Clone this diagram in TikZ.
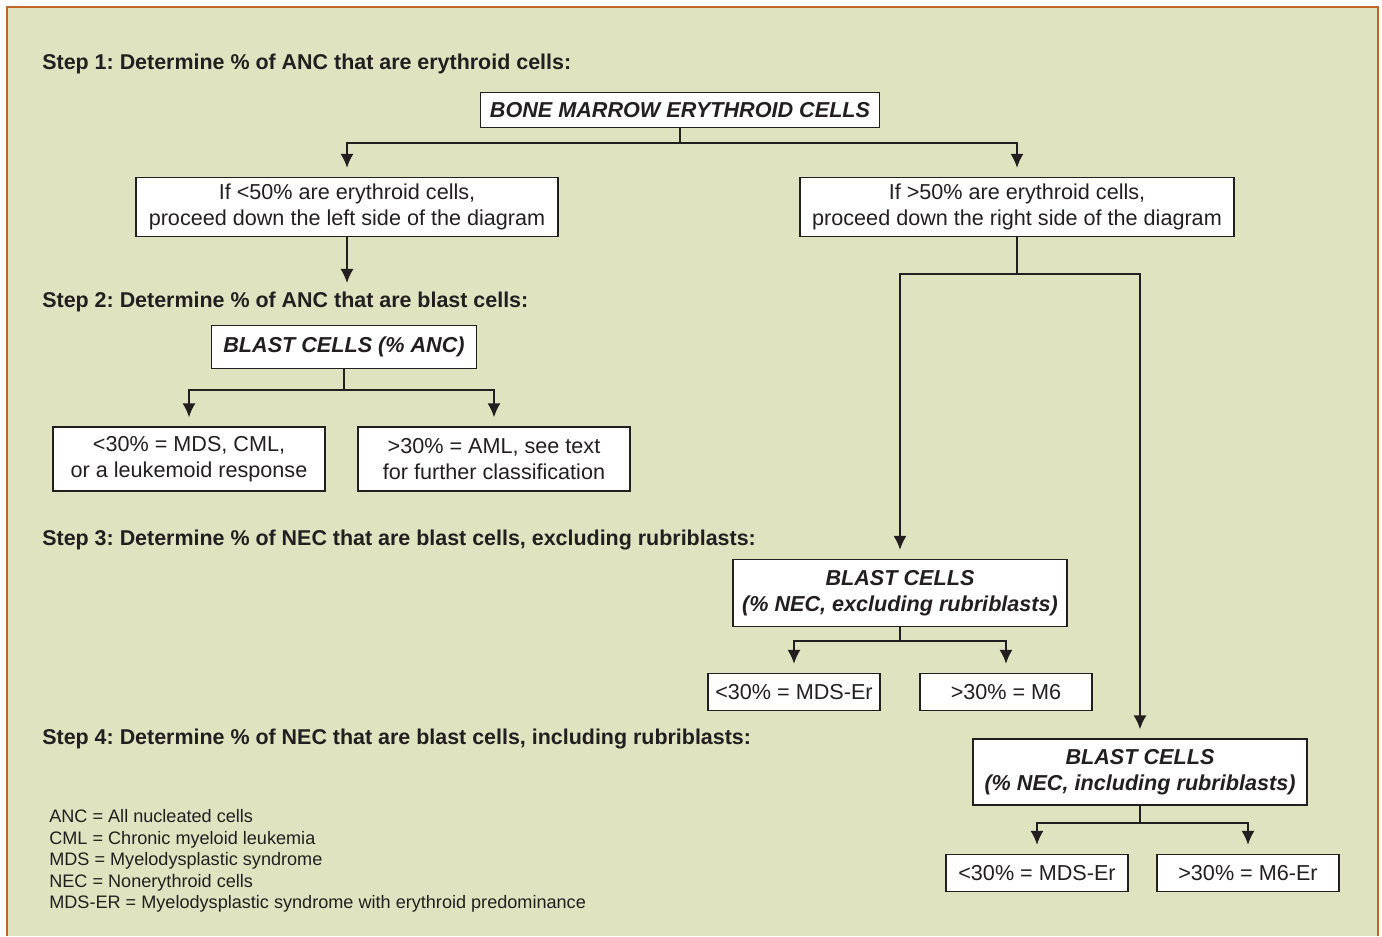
\documentclass[tikz,border=0pt]{standalone}
\usepackage{fontspec}
\setmainfont{Liberation Sans}
\usetikzlibrary{arrows.meta,positioning}
\definecolor{panelbg}{RGB}{223,227,192}
\definecolor{panelrim}{RGB}{193,102,43}
\definecolor{inkgray}{RGB}{35,31,32}
\frenchspacing

\begin{document}
\begin{tikzpicture}[
  x=0.02cm, y=-0.02cm,
  >={Latex[length=8pt,width=7.5pt]},
  box/.style={rectangle, draw=inkgray, fill=white, line width=0.8pt, inner sep=0pt, align=center, text=inkgray, font=\fontsize{12.3}{14.7}\selectfont},
  head/.style={box, font=\fontsize{12.3}{14.7}\selectfont\bfseries\itshape},
  stepText/.style={anchor=west, inner sep=0pt, text=inkgray, font=\fontsize{12.2}{14}\selectfont\bfseries},
  link/.style={draw=inkgray, line width=1pt},
  arr/.style={link, ->, shorten >=0.18cm}
]
  \useasboundingbox (0,0) rectangle (1382,936);
  \fill[panelbg] (7,7) rectangle (1378,936);
  \draw[panelrim, line width=1.2pt] (7,936) -- (7,7) -- (1378,7) -- (1378,936);

  % step 1
  \node[stepText] (s1) at (42,64) {Step 1: Determine \% of ANC that are erythroid cells:};
  \node[head, minimum width=7.98cm, minimum height=0.70cm] (bm) at (680,110) {BONE MARROW ERYTHROID CELLS};
  \node[box, minimum width=8.44cm, minimum height=1.18cm] (lt) at (347,207) {If <50\% are erythroid cells,\\proceed down the left side of the diagram};
  \node[box, minimum width=8.68cm, minimum height=1.18cm] (rt) at (1017,207) {If >50\% are erythroid cells,\\proceed down the right side of the diagram};
  \draw[arr] (bm.south) -- ++(0,15) -| (lt.north);
  \draw[arr] (bm.south) -- ++(0,15) -| (rt.north);

  % step 2
  \node[stepText] (s2) at (42,302) {Step 2: Determine \% of ANC that are blast cells:};
  \coordinate (a2) at (347,283);
  \draw[link, ->] (lt.south) -- (a2);
  \node[head, minimum width=5.30cm, minimum height=0.86cm] (blA) at (344,347) {BLAST CELLS (\% ANC)};
  \node[box, minimum width=5.44cm, minimum height=1.28cm] (lo) at (189,459) {<30\% = MDS, CML,\\or a leukemoid response};
  \node[box, minimum width=5.44cm, minimum height=1.28cm] (hi) at (494,459) {>30\% = AML, see text\\for further classification};
  \draw[arr] (blA.south) -- ++(0,21) -| (lo.north);
  \draw[arr] (blA.south) -- ++(0,21) -| (hi.north);

  % step 3
  \node[stepText] (s3) at (42,540) {Step 3: Determine \% of NEC that are blast cells, excluding rubriblasts:};
  \node[head, minimum width=6.68cm, minimum height=1.34cm] (blN) at (900,593) {BLAST CELLS\\(\% NEC, excluding rubriblasts)};
  \node[head, minimum width=6.68cm, minimum height=1.32cm] (blR) at (1140,772) {BLAST CELLS\\(\% NEC, including rubriblasts)};
  \draw[arr] (rt.south) -- ++(0,37) -| (blN.north);
  \draw[arr] (rt.south) -- ++(0,37) -| (blR.north);
  \node[box, minimum width=3.44cm, minimum height=0.74cm] (mdsA) at (794,692) {<30\% = MDS-Er};
  \node[box, minimum width=3.44cm, minimum height=0.74cm] (m6) at (1006,692) {>30\% = M6};
  \draw[arr] (blN.south) -- ++(0,14) -| (mdsA.north);
  \draw[arr] (blN.south) -- ++(0,14) -| (m6.north);

  % step 4
  \node[stepText] (s4) at (42,739) {Step 4: Determine \% of NEC that are blast cells, including rubriblasts:};
  \node[box, minimum width=3.64cm, minimum height=0.74cm] (mdsB) at (1037,873) {<30\% = MDS-Er};
  \node[box, minimum width=3.64cm, minimum height=0.74cm] (m6er) at (1248,873) {>30\% = M6-Er};
  \draw[arr] (blR.south) -- ++(0,17) -| (mdsB.north);
  \draw[arr] (blR.south) -- ++(0,17) -| (m6er.north);

  % abbreviations
  \node[anchor=north west, inner sep=0pt, align=left, text=inkgray, font=\fontsize{10.3}{12.3}\selectfont] (abbr) at (49,809)
    {ANC = All nucleated cells\\CML = Chronic myeloid leukemia\\MDS = Myelodysplastic syndrome\\NEC = Nonerythroid cells\\MDS-ER = Myelodysplastic syndrome with erythroid predominance};
\end{tikzpicture}
\end{document}
